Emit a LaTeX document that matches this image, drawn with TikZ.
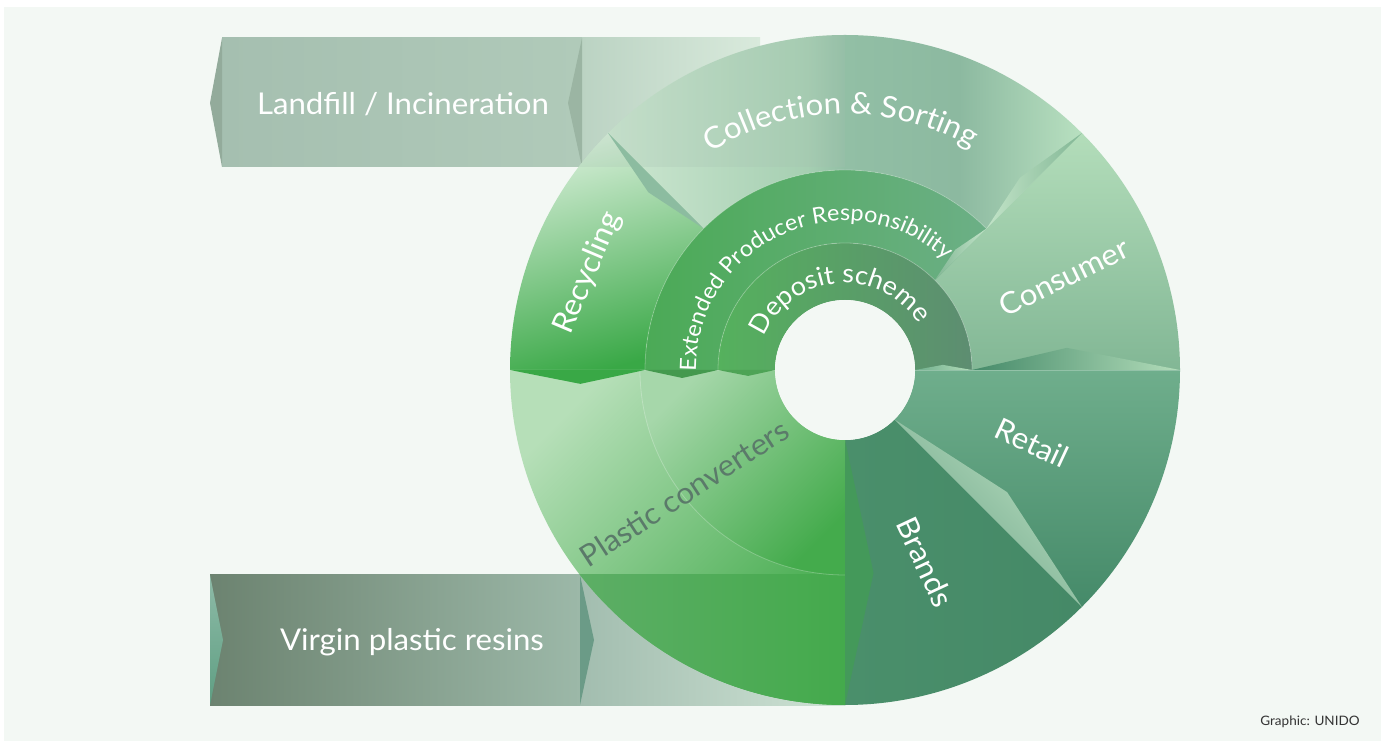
\documentclass[tikz,border=0pt]{standalone}
\usepackage{fontspec}
\setmainfont{Lato}[FakeStretch=1.04]
\usetikzlibrary{decorations.text}
\definecolor{bg}{HTML}{F3F8F4}
\definecolor{lfA}{HTML}{A5BFB0}\definecolor{lfB}{HTML}{B0CAB9}
\definecolor{lfTip}{HTML}{93AB9B}\definecolor{lfChev}{HTML}{9BB5A3}
\definecolor{lfExA}{HTML}{BBD3C3}\definecolor{lfExB}{HTML}{D9EADC}
\definecolor{vgA}{HTML}{6C8370}\definecolor{vgB}{HTML}{9CB8A8}
\definecolor{vgTip}{HTML}{5E9E82}\definecolor{vgChev}{HTML}{6B9B87}
\definecolor{vgExA}{HTML}{A2BDAF}\definecolor{vgExB}{HTML}{CFE3D5}
\definecolor{recA}{HTML}{D6EED8}\definecolor{recM}{HTML}{A9D9AC}\definecolor{recB}{HTML}{39A846}
\definecolor{colA}{HTML}{CDE7D1}\definecolor{colL}{HTML}{A6CFB2}\definecolor{colM}{HTML}{92BFA5}
\definecolor{colN}{HTML}{8CB9A0}\definecolor{colB}{HTML}{B8E0C0}
\definecolor{conA}{HTML}{B3DDBA}\definecolor{conB}{HTML}{82B795}
\definecolor{retA}{HTML}{6FAE8C}\definecolor{retB}{HTML}{458A69}
\definecolor{brA}{HTML}{4A8F6B}\definecolor{brB}{HTML}{458967}
\definecolor{pcA}{HTML}{B6DFB8}\definecolor{pcB}{HTML}{3FA948}
\definecolor{pciA}{HTML}{A6D7AA}\definecolor{pciB}{HTML}{44AB4C}
\definecolor{vbA}{HTML}{64AF6D}\definecolor{vbB}{HTML}{44AA4C}
\definecolor{eprA}{HTML}{4BAA56}\definecolor{eprB}{HTML}{6CAF86}
\definecolor{depA}{HTML}{55B15D}\definecolor{depB}{HTML}{5D8D71}
\definecolor{spikeA}{HTML}{8CBCA0}
\definecolor{chevPC}{HTML}{44995A}
\definecolor{pctext}{HTML}{5B7A6A}
\definecolor{credit}{HTML}{333333}
\pgfdeclarehorizontalshading{collshade}{100bp}{color(0bp)=(colA); color(25bp)=(colA); color(46bp)=(colL); color(50bp)=(colM); color(62bp)=(colN); color(75bp)=(colB); color(100bp)=(colB)}
\newcommand\fBig{\fontsize{30}{30}\selectfont}
\newcommand\fColl{\fontsize{30}{30}\selectfont\color{white}}
\newcommand\fEpr{\fontsize{22.5}{22.5}\selectfont\color{white}}
\newcommand\fDep{\fontsize{26}{26}\selectfont\color{white}}
\def\sect#1#2#3#4{([shift={(#1:#4pt)}]C) arc[start angle=#1,end angle=#2,radius=#4pt] -- ([shift={(#2:#3pt)}]C) arc[start angle=#2,end angle=#1,radius=#3pt] -- cycle}
\def\kite#1#2#3#4#5{([shift={(#1:#2pt)}]C) -- ([shift={(#4:#5pt)}]C) -- ([shift={(#1:#3pt)}]C) -- cycle}
\tikzset{
  label/.style={text=white,font=\fBig,inner sep=0pt},
  ringline/.style={white,opacity=0.25,line width=0.8pt}
}
\begin{document}
\begin{tikzpicture}[x=1pt,y=1pt]
\useasboundingbox (0,0) rectangle (1385,745);
\fill[white] (0,0) rectangle (1385,745);
\fill[bg] (4,4) rectangle (1381,738);
\coordinate (C) at (845,375);
% ---------- Landfill band ----------
\shade[left color=lfA,right color=lfB] (222,578) rectangle (582,707);
\fill[lfTip] (222,707) -- (210,642) -- (222,578) -- cycle;
\shade[left color=lfExA,right color=lfExB] (582,578) rectangle (760,707);
\fill[lfChev] (582,707) -- (568,642) -- (582,578) -- cycle;
% ---------- Virgin band ----------
\shade[left color=vgA,right color=vgB] (210,40) rectangle (580,170);
\shade[top color=vgTip!70!white,bottom color=vgTip] (210,170) -- (223,105) -- (210,40) -- cycle;
\shade[left color=vgExA,right color=vgExB] (580,40) rectangle (845,170);
\fill[vgChev] (580,170) -- (594,105) -- (580,40) -- cycle;
% ---------- circle segments ----------
\shade[top color=recA,middle color=recM,bottom color=recB,shading angle=15] \sect{135}{180}{200}{335};
\shade[shading=collshade] \sect{45}{135}{200}{335};
\shade[top color=conA,bottom color=conB] \sect{0}{45}{127}{335};
\shade[top color=retA,bottom color=retB] \sect{-45}{0}{70}{335};
\shade[left color=brA,right color=brB] \sect{-90}{-45}{70}{335};
\shade[top color=pcA,bottom color=pcB,shading angle=45] \sect{180}{270}{70}{335};
\shade[top color=pciA,bottom color=pciB,shading angle=45] \sect{180}{270}{70}{205};
\begin{scope}
  \clip (C) circle[radius=335pt];
  \shade[left color=vbA,right color=vbB] (500,40) rectangle (845,170);
  \fill[lfA,opacity=0.22] (560,578) rectangle (845,710);
\end{scope}
\shade[left color=eprA,right color=eprB] \sect{45}{180}{127}{200};
\shade[left color=depA,right color=depB] \sect{0}{180}{70}{127};
% ring boundary lines
\draw[ringline] ([shift={(45:200pt)}]C) arc[start angle=45,end angle=180,radius=200pt];
\draw[ringline] ([shift={(0:127pt)}]C) arc[start angle=0,end angle=180,radius=127pt];
\draw[ringline] ([shift={(180:205pt)}]C) arc[start angle=180,end angle=270,radius=205pt];
\draw[ringline] (510,375) -- (1180,375);
% ---------- chevrons / kites ----------
\fill[recB] \kite{180}{200}{335}{183}{265};
\fill[eprA!90!black] \kite{180}{127}{200}{182.8}{163};
\fill[depA!92!black] \kite{180}{70}{127}{183.5}{97};
\fill[chevPC] \kite{270}{70}{335}{278}{205};
\fill[spikeA] \kite{135}{200}{335}{137.9}{265};
\shade[left color=conA!80!white,right color=conB] \kite{45}{200}{335}{47.7}{260};
\shade[left color=conB,right color=conA!80!white] \kite{45}{127}{200}{47.5}{163};
\shade[top color=conA!90!white,bottom color=retB!80!white,shading angle=-45] \kite{-45}{70}{335}{-37}{203};
\shade[left color=retB,right color=conA] \kite{0}{127}{335}{5.7}{223};
\shade[left color=retA,right color=conA] \kite{0}{70}{127}{3}{98};
% ---------- hole ----------
\fill[bg] (C) circle[radius=70pt];
% ---------- texts ----------
\node[label] (landfill) at (403,641) {Landfill / Incineration};
\node[label] (virgin) at (412,103) {Virgin plastic resins};
\node[label,rotate=67] (recycling) at (588,472) {Recycling};
\node[label,rotate=26] (consumer) at (1064,468) {Consumer};
\node[label,rotate=-25] (retail) at (1032,302) {Retail};
\node[label,rotate=-65] (brands) at (925,183) {Brands};
\node[label,rotate=33,text=pctext] (pconv) at (684,252) {Plastic converters};
\path[decorate,decoration={text along path,text align=center,text={|\fColl|Collection {\&} Sorting}}]
  ([shift={(160:256pt)}]C) arc[start angle=160,end angle=22,radius=256pt];
\path[decorate,decoration={text along path,text align=center,text={|\fEpr|Extended Producer Responsibility}}]
  ([shift={(200:149pt)}]C) arc[start angle=200,end angle=28,radius=149pt];
\path[decorate,decoration={text along path,text align=center,text={|\fDep|Deposit scheme}}]
  ([shift={(190:87pt)}]C) arc[start angle=190,end angle=0,radius=87pt];
\node[text=credit,font=\fontsize{13}{13}\selectfont,inner sep=0pt] (credit) at (1310,23) {Graphic: UNIDO};
\end{tikzpicture}
\end{document}
